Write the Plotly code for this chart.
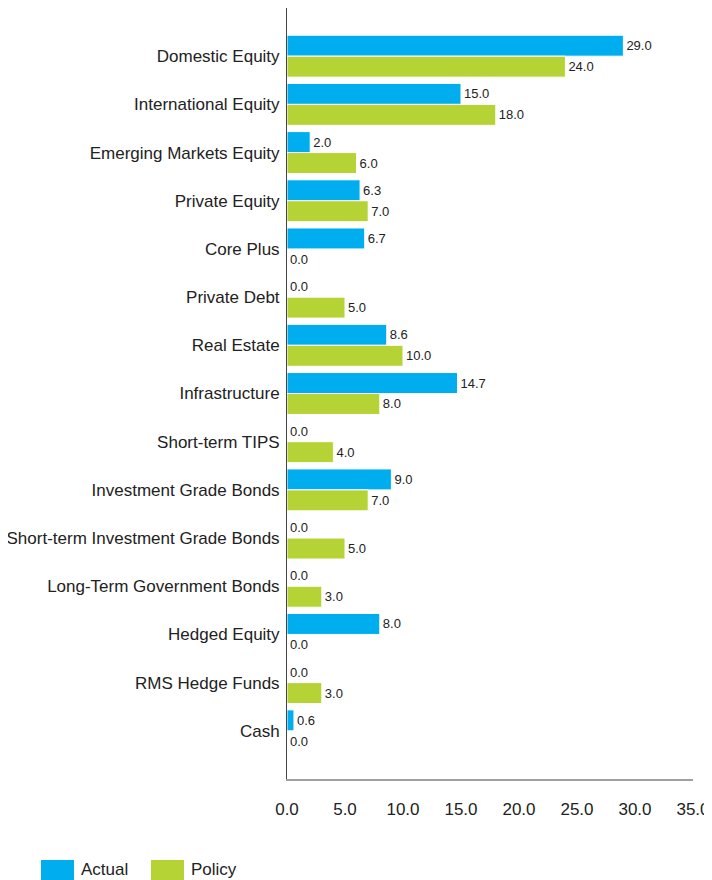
import plotly.graph_objects as go

categories = [
    "Domestic Equity",
    "International Equity",
    "Emerging Markets Equity",
    "Private Equity",
    "Core Plus",
    "Private Debt",
    "Real Estate",
    "Infrastructure",
    "Short-term TIPS",
    "Investment Grade Bonds",
    "Short-term Investment Grade Bonds",
    "Long-Term Government Bonds",
    "Hedged Equity",
    "RMS Hedge Funds",
    "Cash",
]
actual = [29.0, 15.0, 2.0, 6.3, 6.7, 0.0, 8.6, 14.7, 0.0, 9.0, 0.0, 0.0, 8.0, 0.0, 0.6]
policy = [24.0, 18.0, 6.0, 7.0, 0.0, 5.0, 10.0, 8.0, 4.0, 7.0, 5.0, 3.0, 0.0, 3.0, 0.0]
x_ticks = [0, 5, 10, 15, 20, 25, 30, 35]

BLUE = "#00AEEF"
GREEN = "#B5D334"
FONT = "Liberation Sans, Arial, sans-serif"

# figure pixels (the page body adds an 8px offset on screen)
FIG_W, FIG_H = 704, 872
PLOT_L, PLOT_W = 279, 406
PLOT_T, PLOT_H = 0, 771
PLOT_B = PLOT_T + PLOT_H

fig = go.Figure()
for name, vals, color in [("Actual", actual, BLUE), ("Policy", policy, GREEN)]:
    fig.add_trace(go.Bar(
        y=categories,
        x=vals,
        name=name,
        orientation="h",
        marker=dict(color=color, line=dict(color="white", width=1)),
        text=[f"{v:.1f}" for v in vals],
        textposition="outside",
        textfont=dict(size=13, color="#222222", family=FONT),
        cliponaxis=False,
        showlegend=False,
    ))

fig.update_layout(
    width=FIG_W,
    height=FIG_H,
    barmode="group",
    bargap=0.13,
    bargroupgap=0,
    plot_bgcolor="white",
    paper_bgcolor="white",
    font=dict(family=FONT, color="#222222", size=17),
    margin=dict(l=PLOT_L, r=FIG_W - PLOT_L - PLOT_W, t=PLOT_T, b=FIG_H - PLOT_B),
    uniformtext=dict(minsize=13, mode="show"),
)

fig.update_yaxes(
    categoryorder="array",
    categoryarray=categories,
    autorange=False,
    range=[len(categories), -1],
    showline=True,
    linecolor="#444444",
    linewidth=1,
    showgrid=False,
    ticks="",
    ticklabelstandoff=3,
    automargin=False,
    tickfont=dict(size=17),
)

fig.update_xaxes(
    range=[0, 35.001],
    tickvals=x_ticks,
    ticktext=[f"{t:.1f}" for t in x_ticks],
    showline=True,
    linecolor="#A0A0A0",
    linewidth=2,
    showgrid=False,
    zeroline=False,
    ticks="",
    ticklabelstandoff=14,
    automargin=False,
    tickfont=dict(size=17),
)

# legend drawn as swatches under the axis
legend_items = [("Actual", BLUE, 33), ("Policy", GREEN, 143)]
for label, color, x0 in legend_items:
    fig.add_shape(type="rect", xref="paper", yref="paper",
                  x0=(x0 - PLOT_L) / PLOT_W, x1=(x0 + 33 - PLOT_L) / PLOT_W,
                  y0=(PLOT_B - 852) / PLOT_H, y1=(PLOT_B - 873) / PLOT_H,
                  fillcolor=color, line_width=0)
    fig.add_annotation(xref="paper", yref="paper",
                       x=(x0 + 38 - PLOT_L) / PLOT_W, y=(PLOT_B - 861) / PLOT_H,
                       text=label, showarrow=False,
                       xanchor="left", yanchor="middle",
                       font=dict(size=17, color="#222222"))

fig.write_html("out.html")
